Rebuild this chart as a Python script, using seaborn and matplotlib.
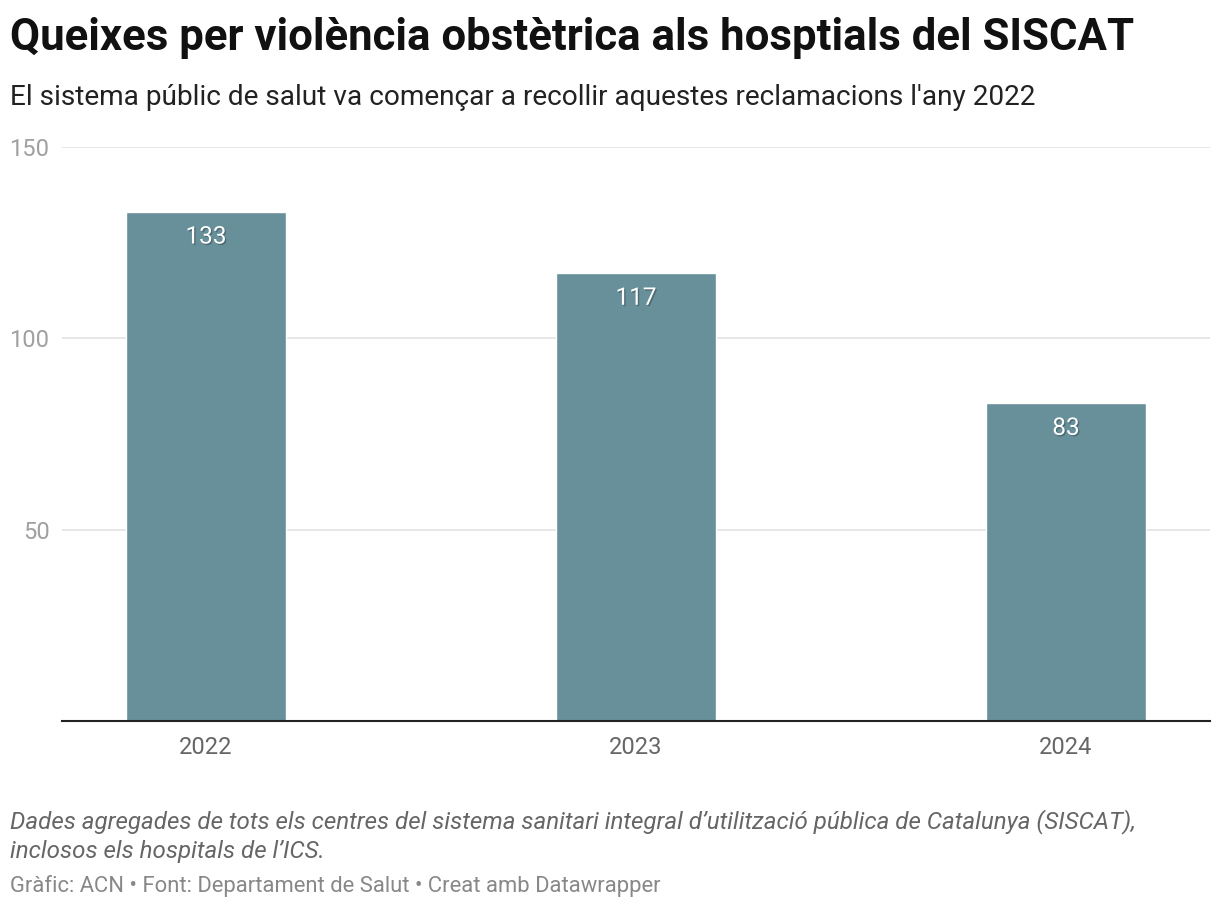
import matplotlib
matplotlib.use("Agg")
import matplotlib.pyplot as plt
import matplotlib.patheffects as pe
import seaborn as sns
import pandas as pd

years = ["2022", "2023", "2024"]
queixes = [133, 117, 83]
yticks = [50, 100, 150]

title = "Queixes per violència obstètrica als hosptials del SISCAT"
subtitle = "El sistema públic de salut va començar a recollir aquestes reclamacions l'any 2022"
note = ("Dades agregades de tots els centres del sistema sanitari integral d\u2019utilització pública de Catalunya (SISCAT),\n"
        "inclosos els hospitals de l\u2019ICS.")
credit = "Gràfic: ACN • Font: Departament de Salut • Creat amb Datawrapper"

sns.set_style("white")
plt.rcParams['font.family'] = ['Roboto', 'DejaVu Sans']

df = pd.DataFrame({"any": years, "queixes": queixes})

fig = plt.figure(figsize=(12.2, 9.1), dpi=100)
ax = fig.add_axes([0.0508, 0.2077, 0.941, 0.6308])

sns.barplot(data=df, x="any", y="queixes", color="#68909a", saturation=1,
            width=0.374, ax=ax, zorder=3)

ax.set_xlim(-0.335, 2.335)
ax.set_ylim(0, 150)
ax.set_yticks(yticks)
ax.set_yticklabels([str(t) for t in yticks])
ax.set_xlabel("")
ax.set_ylabel("")
ax.grid(axis="y", color="#e3e3e3", linewidth=1.2, zorder=0)
for s in ["top", "right", "left"]:
    ax.spines[s].set_visible(False)
ax.spines["bottom"].set_color("#222222")
ax.spines["bottom"].set_linewidth(1.5)
ax.spines["bottom"].set_zorder(4)
ax.tick_params(axis="y", length=0, labelsize=17, labelcolor="#a0a0a0", pad=9)
ax.tick_params(axis="x", length=0, labelsize=17, labelcolor="#666666", pad=11)

# value labels inside the bars, white with a soft shadow
for i, v in enumerate(queixes):
    ax.annotate(str(v), (i, v), xytext=(0, -25), textcoords="offset pixels",
                ha="center", va="center", fontsize=17.5, color="white", zorder=5,
                path_effects=[pe.withSimplePatchShadow(offset=(1, -1), shadow_rgbFace="black", alpha=0.25)])

fig.text(0.008, 0.958, title, fontsize=31.5, fontweight="bold", color="#111111", va="center")
fig.text(0.008, 0.893, subtitle, fontsize=20.2, color="#222222", va="center")
fig.text(0.008, 0.0815, note, fontsize=17.4, style="italic", color="#666666", va="center", linespacing=1.35)
fig.text(0.008, 0.026, credit, fontsize=15.8, color="#888888", va="center")

fig.savefig("out.png", dpi=100)
